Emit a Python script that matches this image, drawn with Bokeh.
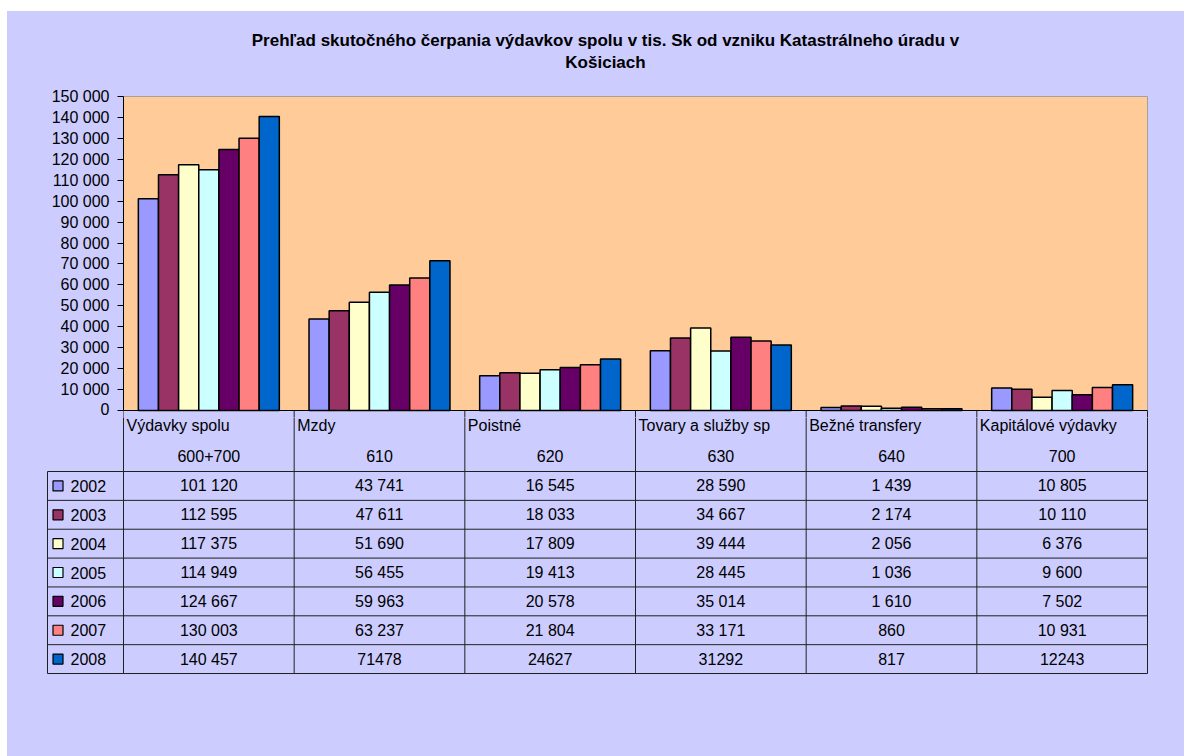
from bokeh.plotting import figure
from bokeh.layouts import column, row
from bokeh.models import Range1d, FixedTicker, ColumnDataSource, Spacer
from bokeh.core.properties import value
from bokeh.embed import file_html
from bokeh.resources import INLINE

# ---------------- data ----------------
categories = ["Výdavky spolu", "Mzdy", "Poistné", "Tovary a služby sp", "Bežné transfery", "Kapitálové výdavky"]
codes = ["600+700", "610", "620", "630", "640", "700"]
years = ["2002", "2003", "2004", "2005", "2006", "2007", "2008"]
v2002 = [101120, 43741, 16545, 28590, 1439, 10805]
v2003 = [112595, 47611, 18033, 34667, 2174, 10110]
v2004 = [117375, 51690, 17809, 39444, 2056, 6376]
v2005 = [114949, 56455, 19413, 28445, 1036, 9600]
v2006 = [124667, 59963, 20578, 35014, 1610, 7502]
v2007 = [130003, 63237, 21804, 33171, 860, 10931]
v2008 = [140457, 71478, 24627, 31292, 817, 12243]
series = [v2002, v2003, v2004, v2005, v2006, v2007, v2008]
# whether the table shows a thousands separator (the 2008 row mostly does not)
grouped = [[True] * 6] * 6 + [[True, False, False, False, False, False]]
colors = ["#9999FF", "#993366", "#FFFFCC", "#CCFFFF", "#660066", "#FF8080", "#0066CC"]
y_ticks = [0, 10000, 20000, 30000, 40000, 50000, 60000, 70000, 80000, 90000,
           100000, 110000, 120000, 130000, 140000, 150000]
y_tick_labels = ["0", "10 000", "20 000", "30 000", "40 000", "50 000", "60 000", "70 000",
                 "80 000", "90 000", "100 000", "110 000", "120 000", "130 000", "140 000", "150 000"]
title_lines = ["Prehľad skutočného čerpania výdavkov spolu v tis. Sk od vzniku Katastrálneho úradu v",
               "Košiciach"]

# ---------------- layout constants (page px) ----------------
FONT = "Liberation Sans"
LAV = "#CCCCFF"
PEACH = "#FFCC99"
OX, OY = 7, 11             # white margin around the chart area
W = 1184 - OX
NC = len(categories)
YMAX = 150000
PLOT_L, PLOT_R = 123, 1147 # plot-area edges
PLOT_T, PLOT_B = 96, 410   # plot-area edges
CW = (PLOT_R - PLOT_L) / NC   # px per category
U = 1 / CW                 # data units per px (x)
K = YMAX / (PLOT_B - PLOT_T)  # data units per px (y)
SPLIT = 417                # page y where chart figure ends and table figure starts
BW = 0.118                 # bar width in category units

# ---------------- chart ----------------
FL = PLOT_L - OX
FWF = PLOT_R + 3 - PLOT_L
CHH = SPLIT - OY
p = figure(width=W, height=CHH,
           x_range=Range1d(0, NC + 3 * U),
           y_range=Range1d(-(SPLIT - PLOT_B) * K, YMAX + (PLOT_T - OY) * K),
           output_backend="svg", toolbar_location=None, x_axis_location=None,
           min_border_left=FL, min_border_right=W - FL - FWF, min_border_top=0, min_border_bottom=0,
           background_fill_color=LAV, border_fill_color=LAV, outline_line_color=None,
           frame_align=False)
p.xgrid.visible = False
p.ygrid.visible = False

p.quad(left=[0], right=[NC], bottom=[0], top=[YMAX], fill_color=PEACH,
       line_color="#A0A0A0", line_width=1)

for j, (yr, vals, col) in enumerate(zip(years, series, colors)):
    xs = [i + 0.5 + (j - 3) * BW for i in range(NC)]
    src = ColumnDataSource(dict(x=xs, top=vals))
    p.vbar(x="x", top="top", width=BW, source=src, fill_color=col,
           line_color="black", line_width=1.5)

# top of the data table (category axis line + column separators)
p.segment(x0=[0], y0=[0], x1=[NC], y1=[0], line_color="black", line_width=1)
vx = list(range(NC + 1))
p.segment(x0=vx, y0=[0] * len(vx), x1=vx, y1=[-YMAX] * len(vx), line_color="#202020", line_width=1)

ax = p.yaxis[0]
ax.ticker = FixedTicker(ticks=y_ticks)
ax.bounds = (0, YMAX)
ax.major_label_overrides = {t: l for t, l in zip(y_ticks, y_tick_labels)}
ax.axis_line_color = "black"
ax.axis_line_width = 1
ax.major_tick_line_color = "black"
ax.major_tick_in = 0
ax.major_tick_out = 6
ax.minor_tick_line_color = None
ax.major_label_standoff = 8
ax.major_label_text_font = FONT
ax.major_label_text_font_size = "16px"
ax.major_label_text_color = "black"

p.text(x=[(605 - PLOT_L) * U] * 2, y=[YMAX + (PLOT_T - 40) * K, YMAX + (PLOT_T - 62) * K],
       text=title_lines, text_align="center", text_baseline="middle", text_font=value(FONT),
       text_font_style="bold", text_font_size="17px", text_color="black")

# ---------------- data table ----------------
TL, TR = 44 - OX, 1150 - OX           # table frame edges (figure px)
HDR = 61                              # header height (px below PLOT_B)
RH = 28.86                            # data row height (px)
NR = len(years)
TBOT = HDR + NR * RH
TOP0 = SPLIT - PLOT_B                 # table frame top, in px below PLOT_B
TFH = int(round(TBOT + 3 - TOP0))
TBH = 756 - SPLIT
t = figure(width=W, height=TBH,
           x_range=Range1d((TL - FL) * U, (TR - FL) * U),
           y_range=Range1d(TOP0 + TFH, TOP0),
           output_backend="svg", toolbar_location=None,
           x_axis_location=None, y_axis_location=None,
           min_border_left=TL, min_border_right=W - TR, min_border_top=0,
           min_border_bottom=TBH - TFH,
           background_fill_color=LAV, border_fill_color=LAV, outline_line_color=None,
           frame_align=False)
t.xgrid.visible = False
t.ygrid.visible = False

leg_left = (47 - PLOT_L) * U
hy = [HDR + k * RH for k in range(NR + 1)]
t.segment(x0=[leg_left] * len(hy), y0=hy, x1=[NC] * len(hy), y1=hy,
          line_color="#202020", line_width=1)
t.segment(x0=vx, y0=[0] * len(vx), x1=vx, y1=[TBOT] * len(vx), line_color="#202020", line_width=1)
t.segment(x0=[leg_left], y0=[HDR], x1=[leg_left], y1=[TBOT], line_color="#202020", line_width=1)

# header texts
t.text(x=[i + 3 * U for i in range(NC)], y=[15] * NC, text=categories,
       text_align="left", text_baseline="middle", text_font=value(FONT),
       text_font_size="16px", text_color="black")
t.text(x=[i + 0.5 for i in range(NC)], y=[45] * NC, text=codes,
       text_align="center", text_baseline="middle", text_font=value(FONT),
       text_font_size="16px", text_color="black")

# legend keys and years
row_y = [HDR + (k + 0.5) * RH for k in range(NR)]
t.scatter(x=[(57.5 - PLOT_L) * U] * NR, y=row_y, marker="square", size=10,
          fill_color=colors, line_color="black", line_width=1.2)
t.text(x=[(70 - PLOT_L) * U] * NR, y=row_y, text=years, text_align="left",
       text_baseline="middle", text_font=value(FONT), text_font_size="16px",
       text_color="black")

# values
cx, cy, ct = [], [], []
for k, (vals, grp) in enumerate(zip(series, grouped)):
    for i, (v, g) in enumerate(zip(vals, grp)):
        cx.append(i + 0.5)
        cy.append(row_y[k])
        ct.append(f"{v:,}".replace(",", " ") if g else str(v))
t.text(x=cx, y=cy, text=ct, text_align="center", text_baseline="middle",
       text_font=value(FONT), text_font_size="16px", text_color="black")

inner = column(p, t, spacing=0, styles={"background-color": LAV})
layout = row(Spacer(width=OX, height=756), column(Spacer(width=W, height=OY), inner, spacing=0), spacing=0)
open("out.html", "w").write(file_html(layout, INLINE))
